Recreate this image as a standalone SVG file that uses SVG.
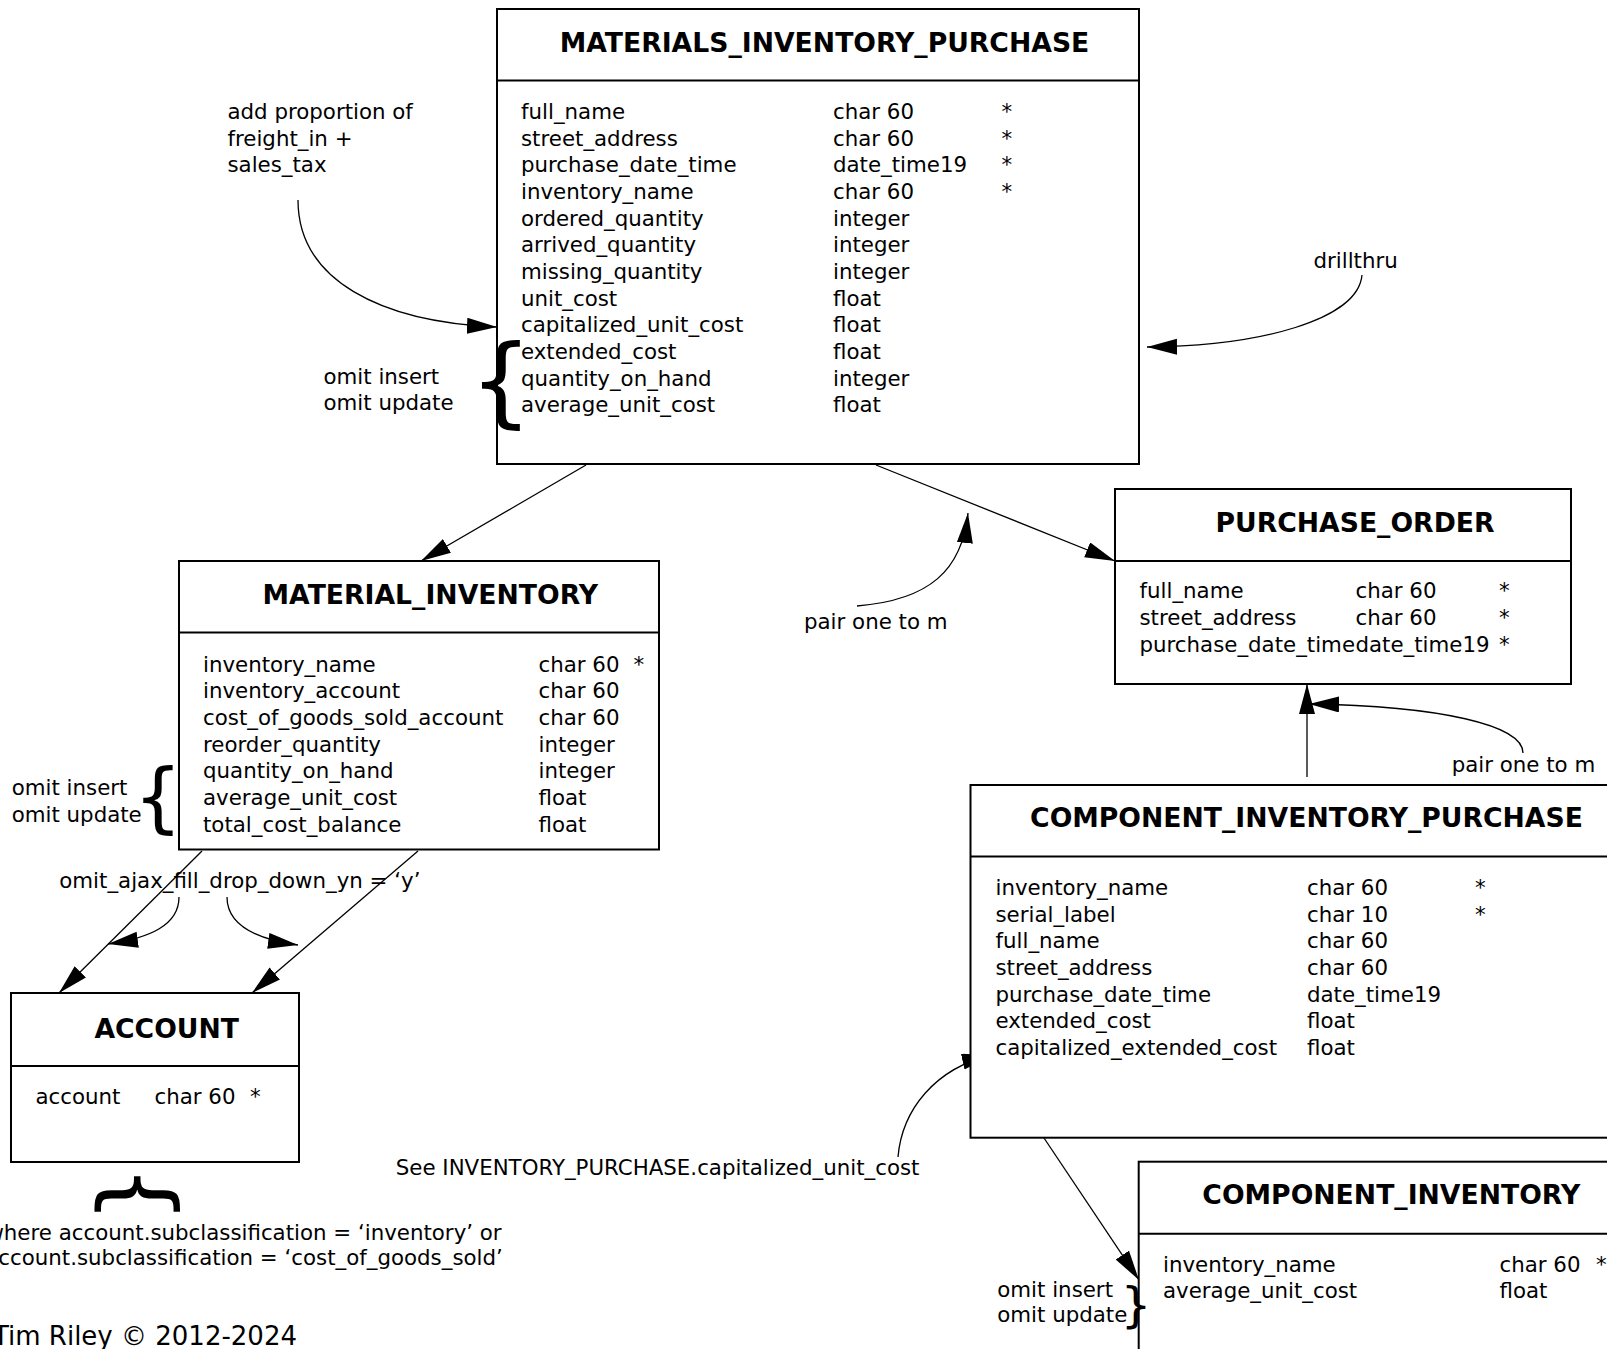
<svg xmlns="http://www.w3.org/2000/svg" width="1607" height="1349" viewBox="0 0 1607 1349">
<style>
.bg{fill:#fff}
.box{fill:#fff;stroke:#000;stroke-width:2}
.div{stroke:#000;stroke-width:2}
.t{font-family:"DejaVu Sans","Liberation Sans",sans-serif;font-size:21.33px;fill:#000}
.big{font-size:26px}
.title{font-family:"DejaVu Sans","Liberation Sans",sans-serif;font-size:26.67px;font-weight:bold;fill:#000;text-anchor:middle}
.brace{font-family:"DejaVu Sans","Liberation Sans",sans-serif;fill:#000}
.c{fill:none;stroke:#000;stroke-width:1.3}
</style>
<defs>
<marker id="ah" markerUnits="userSpaceOnUse" markerWidth="32" markerHeight="18" refX="30" refY="8" orient="auto" viewBox="0 0 32 18">
<path d="M0,0 L30,8 L0,16 z" fill="#000"/>
</marker>
</defs>
<rect class="bg" x="0" y="0" width="1607" height="1349"/>

<g id="connectors">
<path class="c" d="M586,465 L421,561" marker-end="url(#ah)"/>
<path class="c" d="M876,465 L1115,561" marker-end="url(#ah)"/>
<path class="c" d="M202,851 L59,993" marker-end="url(#ah)"/>
<path class="c" d="M418,851 L252,993" marker-end="url(#ah)"/>
<path class="c" d="M1307,777 L1307,684" marker-end="url(#ah)"/>
<path class="c" d="M1044,1138 L1139,1280" marker-end="url(#ah)"/>
<path class="c" d="M298,200 C298,280 380,322 497,327" marker-end="url(#ah)"/>
<path class="c" d="M1362,275 C1358,320 1260,346 1147,347" marker-end="url(#ah)"/>
<path class="c" d="M857,606 C930,600 962,570 968,513" marker-end="url(#ah)"/>
<path class="c" d="M1523,753 C1523,725 1440,706 1309,704" marker-end="url(#ah)"/>
<path class="c" d="M898,1157 C902,1110 935,1068 992,1055" marker-end="url(#ah)"/>
<path class="c" d="M179,897 C179,925 150,938 108,944" marker-end="url(#ah)"/>
<path class="c" d="M227,897 C227,925 255,939 298,945" marker-end="url(#ah)"/>
</g>

<g id="materials_inventory_purchase">
<rect class="box" x="497" y="9" width="642" height="455"/>
<line class="div" x1="497" y1="80.5" x2="1139" y2="80.5"/>
<text class="title" x="824.5" y="52">MATERIALS_INVENTORY_PURCHASE</text>
<text class="t" x="521" y="119"><tspan x="521">full_name</tspan><tspan x="521" dy="26.67">street_address</tspan><tspan x="521" dy="26.67">purchase_date_time</tspan><tspan x="521" dy="26.67">inventory_name</tspan><tspan x="521" dy="26.67">ordered_quantity</tspan><tspan x="521" dy="26.67">arrived_quantity</tspan><tspan x="521" dy="26.67">missing_quantity</tspan><tspan x="521" dy="26.67">unit_cost</tspan><tspan x="521" dy="26.67">capitalized_unit_cost</tspan><tspan x="521" dy="26.67">extended_cost</tspan><tspan x="521" dy="26.67">quantity_on_hand</tspan><tspan x="521" dy="26.67">average_unit_cost</tspan></text>
<text class="t" x="833" y="119"><tspan x="833">char 60</tspan><tspan x="833" dy="26.67">char 60</tspan><tspan x="833" dy="26.67">date_time19</tspan><tspan x="833" dy="26.67">char 60</tspan><tspan x="833" dy="26.67">integer</tspan><tspan x="833" dy="26.67">integer</tspan><tspan x="833" dy="26.67">integer</tspan><tspan x="833" dy="26.67">float</tspan><tspan x="833" dy="26.67">float</tspan><tspan x="833" dy="26.67">float</tspan><tspan x="833" dy="26.67">integer</tspan><tspan x="833" dy="26.67">float</tspan></text>
<text class="t" x="1001.5" y="119"><tspan x="1001.5">*</tspan><tspan x="1001.5" dy="26.67">*</tspan><tspan x="1001.5" dy="26.67">*</tspan><tspan x="1001.5" dy="26.67">*</tspan></text>
</g>

<g id="note_freight">
<text class="t" x="227.5" y="119"><tspan x="227.5">add proportion of</tspan><tspan x="227.5" dy="26.67">freight_in +</tspan><tspan x="227.5" dy="26.67">sales_tax</tspan></text>
</g>
<g id="note_mip_omit">
<text class="t" x="323.5" y="384"><tspan x="323.5">omit insert</tspan><tspan x="323.5" dy="26">omit update</tspan></text>
<text class="brace" x="469.7" y="414.5" font-size="98">{</text>
</g>
<g id="note_drillthru">
<text class="t" x="1313.5" y="267.7">drillthru</text>
</g>

<g id="purchase_order">
<rect class="box" x="1115" y="489" width="456" height="195"/>
<line class="div" x1="1115" y1="561" x2="1571" y2="561"/>
<text class="title" x="1355" y="532">PURCHASE_ORDER</text>
<text class="t" x="1139.5" y="598.3"><tspan x="1139.5">full_name</tspan><tspan x="1139.5" dy="26.67">street_address</tspan><tspan x="1139.5" dy="26.67">purchase_date_time</tspan></text>
<text class="t" x="1355.5" y="598.3"><tspan x="1355.5">char 60</tspan><tspan x="1355.5" dy="26.67">char 60</tspan><tspan x="1355.5" dy="26.67">date_time19</tspan></text>
<text class="t" x="1499" y="598.3"><tspan x="1499">*</tspan><tspan x="1499" dy="26.67">*</tspan><tspan x="1499" dy="26.67">*</tspan></text>
</g>

<g id="note_pair1">
<text class="t" x="804" y="629">pair one to m</text>
</g>

<g id="material_inventory">
<rect class="box" x="179" y="561" width="480" height="288.5"/>
<line class="div" x1="179" y1="632.5" x2="659" y2="632.5"/>
<text class="title" x="430.3" y="604">MATERIAL_INVENTORY</text>
<text class="t" x="203" y="671.7"><tspan x="203">inventory_name</tspan><tspan x="203" dy="26.67">inventory_account</tspan><tspan x="203" dy="26.67">cost_of_goods_sold_account</tspan><tspan x="203" dy="26.67">reorder_quantity</tspan><tspan x="203" dy="26.67">quantity_on_hand</tspan><tspan x="203" dy="26.67">average_unit_cost</tspan><tspan x="203" dy="26.67">total_cost_balance</tspan></text>
<text class="t" x="538.5" y="671.7"><tspan x="538.5">char 60</tspan><tspan x="538.5" dy="26.67">char 60</tspan><tspan x="538.5" dy="26.67">char 60</tspan><tspan x="538.5" dy="26.67">integer</tspan><tspan x="538.5" dy="26.67">integer</tspan><tspan x="538.5" dy="26.67">float</tspan><tspan x="538.5" dy="26.67">float</tspan></text>
<text class="t" x="633.5" y="671.7">*</text>
</g>

<g id="note_mi_omit">
<text class="t" x="11.7" y="795"><tspan x="11.7">omit insert</tspan><tspan x="11.7" dy="26.67">omit update</tspan></text>
<text class="brace" x="133.7" y="822.8" font-size="76">{</text>
</g>

<g id="note_ajax">
<text class="t" x="59.3" y="887.7">omit_ajax_fill_drop_down_yn = ‘y’</text>
</g>

<g id="account">
<rect class="box" x="11" y="993" width="288" height="169"/>
<line class="div" x1="11" y1="1066" x2="299" y2="1066"/>
<text class="title" x="166.7" y="1037.7">ACCOUNT</text>
<text class="t" x="35.5" y="1104.3">account</text>
<text class="t" x="154.5" y="1104.3">char 60</text>
<text class="t" x="250" y="1104.3">*</text>
</g>

<g id="note_account_where">
<text class="brace" transform="translate(135.3,1194) rotate(90)" x="0" y="26.4" font-size="92" text-anchor="middle">{</text>
<text class="t" x="244" y="1240" text-anchor="middle">where account.subclassification = ‘inventory’ or</text>
<text class="t" x="244" y="1265" text-anchor="middle">account.subclassification = ‘cost_of_goods_sold’</text>
</g>

<g id="copyright">
<text class="t big" x="297" y="1345" text-anchor="end">Tim Riley © 2012-2024</text>
</g>

<g id="component_inventory_purchase">
<rect class="box" x="970.5" y="785" width="652" height="352.7"/>
<line class="div" x1="970.5" y1="856.5" x2="1622.5" y2="856.5"/>
<text class="title" x="1306.5" y="827">COMPONENT_INVENTORY_PURCHASE</text>
<text class="t" x="995.5" y="895"><tspan x="995.5">inventory_name</tspan><tspan x="995.5" dy="26.67">serial_label</tspan><tspan x="995.5" dy="26.67">full_name</tspan><tspan x="995.5" dy="26.67">street_address</tspan><tspan x="995.5" dy="26.67">purchase_date_time</tspan><tspan x="995.5" dy="26.67">extended_cost</tspan><tspan x="995.5" dy="26.67">capitalized_extended_cost</tspan></text>
<text class="t" x="1307" y="895"><tspan x="1307">char 60</tspan><tspan x="1307" dy="26.67">char 10</tspan><tspan x="1307" dy="26.67">char 60</tspan><tspan x="1307" dy="26.67">char 60</tspan><tspan x="1307" dy="26.67">date_time19</tspan><tspan x="1307" dy="26.67">float</tspan><tspan x="1307" dy="26.67">float</tspan></text>
<text class="t" x="1475" y="895"><tspan x="1475">*</tspan><tspan x="1475" dy="26.67">*</tspan></text>
</g>

<g id="note_pair2">
<text class="t" x="1451.7" y="771.7">pair one to m</text>
</g>

<g id="note_see">
<text class="t" x="395.8" y="1175">See INVENTORY_PURCHASE.capitalized_unit_cost</text>
</g>

<g id="component_inventory">
<rect class="box" x="1138.7" y="1161.7" width="484" height="220"/>
<line class="div" x1="1138.7" y1="1233.7" x2="1622.7" y2="1233.7"/>
<text class="title" x="1391.3" y="1203.5">COMPONENT_INVENTORY</text>
<text class="t" x="1163" y="1271.7"><tspan x="1163">inventory_name</tspan><tspan x="1163" dy="26.67">average_unit_cost</tspan></text>
<text class="t" x="1499.5" y="1271.7"><tspan x="1499.5">char 60</tspan><tspan x="1499.5" dy="26.67">float</tspan></text>
<text class="t" x="1596" y="1271.7">*</text>
</g>

<g id="note_ci_omit">
<text class="t" x="997.3" y="1296.7"><tspan x="997.3">omit insert</tspan><tspan x="997.3" dy="25.3">omit update</tspan></text>
<text class="brace" x="1120.7" y="1321.5" font-size="48">}</text>
</g>
</svg>
